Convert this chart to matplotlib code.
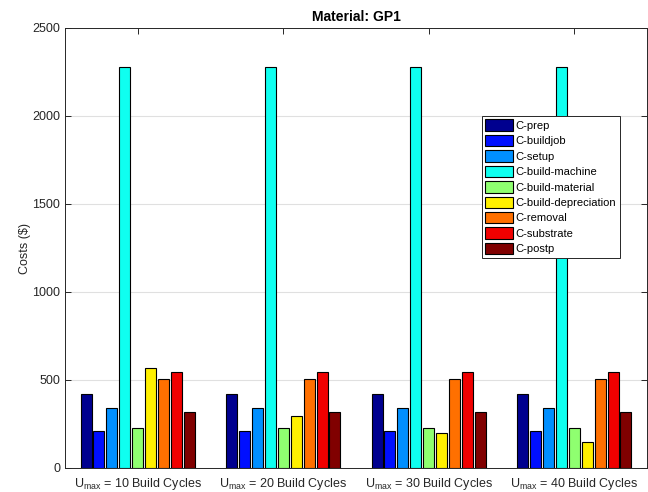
import matplotlib
matplotlib.use("Agg")
import matplotlib.pyplot as plt
import numpy as np

plt.rcParams["font.family"] = ["Liberation Sans", "DejaVu Sans"]
plt.rcParams["mathtext.fontset"] = "custom"
plt.rcParams["mathtext.rm"] = "Liberation Sans"
plt.rcParams["mathtext.it"] = "Liberation Sans"

# cost breakdown per cost item, one value per U_max setting
groups = ["10", "20", "30", "40"]
cost_items = ["C-prep", "C-buildjob", "C-setup", "C-build-machine",
              "C-build-material", "C-build-depreciation", "C-removal",
              "C-substrate", "C-postp"]
costs = {
    "C-prep":               [420, 420, 420, 420],
    "C-buildjob":           [210, 210, 210, 210],
    "C-setup":              [340, 340, 340, 340],
    "C-build-machine":      [2278, 2278, 2278, 2278],
    "C-build-material":     [230, 230, 230, 230],
    "C-build-depreciation": [568, 294, 198, 148],
    "C-removal":            [508, 508, 508, 508],
    "C-substrate":          [546, 546, 546, 546],
    "C-postp":              [316, 316, 316, 316],
}
colors = [(0, 0, 0.56), (0, 0.06, 1), (0, 0.56, 1), (0.06, 1, 0.94),
          (0.56, 1, 0.44), (1, 0.94, 0), (1, 0.44, 0), (0.94, 0, 0),
          (0.5, 0, 0)]

ink = (0.15, 0.15, 0.15)
fig = plt.figure(figsize=(6.48, 4.92), dpi=100)
ax = fig.add_axes([65 / 648, 24 / 492, 582 / 648, 440 / 492])

x = np.arange(1, len(groups) + 1)
n = len(cost_items)
step = 0.8 / n
for i, item in enumerate(cost_items):
    ax.bar(x + (i - (n - 1) / 2) * step, costs[item], width=step * 0.85,
           color=colors[i], edgecolor="black", linewidth=0.8, label=item,
           zorder=3)

ax.set_xlim(0.5, 4.5)
ax.set_ylim(0, 2500)
ax.set_yticks(np.arange(0, 2501, 500))
ax.set_xticks(x)
ax.set_xticklabels([r"U$_{\mathrm{max}}$ = %s Build Cycles" % g for g in groups],
                   fontsize=9.2)
ax.yaxis.grid(True, color=(0.88, 0.88, 0.88), linewidth=0.8, zorder=0)
ax.set_axisbelow(True)
ax.tick_params(direction="in", length=4, width=0.7, colors=ink,
               labelsize=9, top=True, right=True)
ax.tick_params(axis="x", pad=6)
for s in ax.spines.values():
    s.set_color(ink)
    s.set_linewidth(0.7)

ax.set_ylabel("Costs (\\$)", fontsize=9, color=ink, labelpad=1)
ax.set_title("Material: GP1", fontsize=10, fontweight="bold", pad=5)

leg = ax.legend(loc="upper left", bbox_to_anchor=(0.716, 0.80),
                fontsize=8, fancybox=False, framealpha=1, edgecolor=ink,
                handlelength=2.5, handleheight=1.2, handletextpad=0.25,
                labelspacing=0.36, borderpad=0.3, borderaxespad=0)
leg.get_frame().set_linewidth(0.7)

fig.savefig("out.png", dpi=100)
